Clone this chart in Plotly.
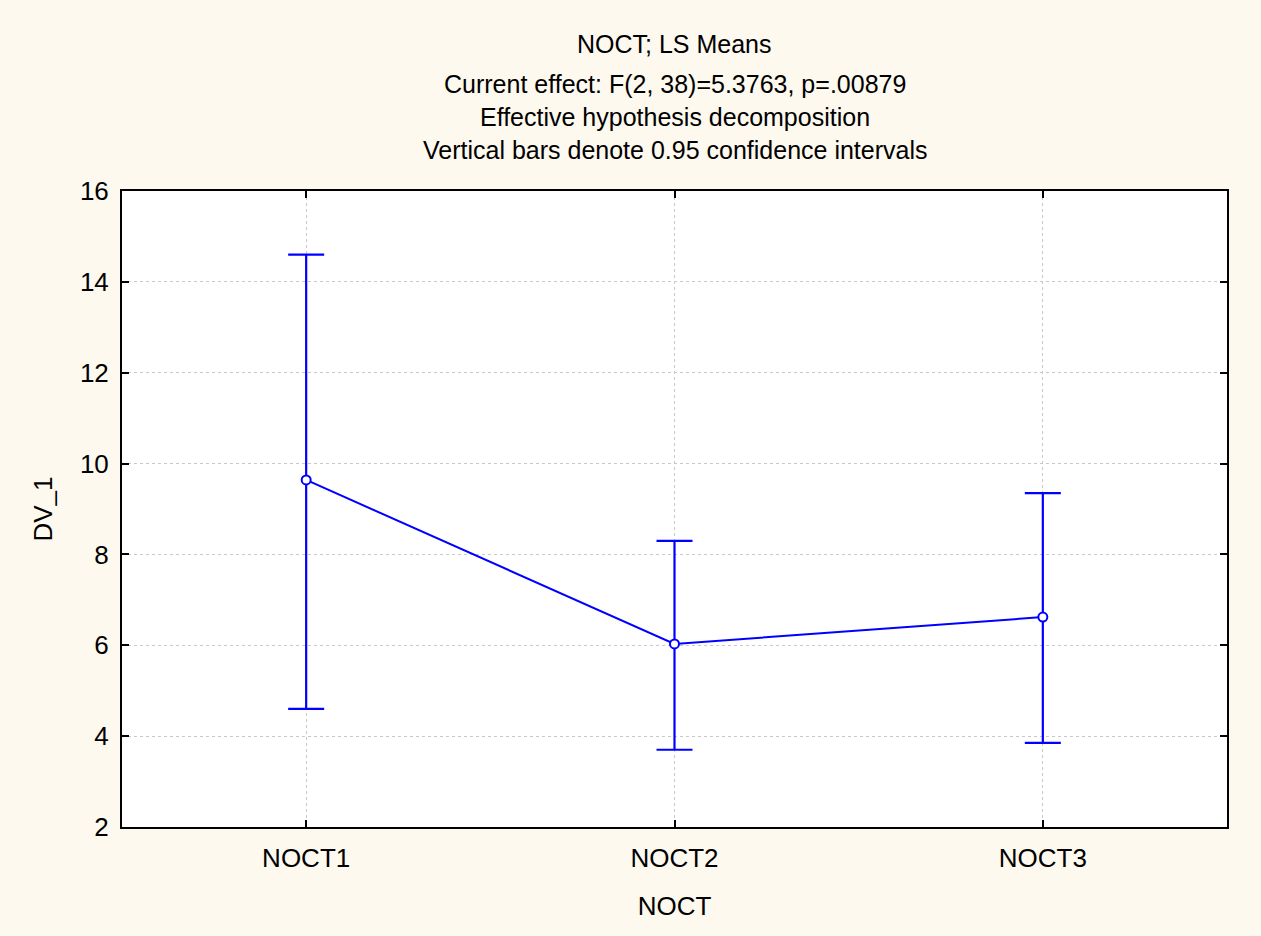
import plotly.graph_objects as go

categories = ["NOCT1", "NOCT2", "NOCT3"]
means = [9.64, 6.03, 6.62]
upper = [14.60, 8.30, 9.35]
lower = [4.60, 3.70, 3.85]
title_lines = [
    "NOCT; LS Means",
    "Current effect: F(2, 38)=5.3763, p=.00879",
    "Effective hypothesis decomposition",
    "Vertical bars denote 0.95 confidence intervals",
]

err_plus = [u - m for u, m in zip(upper, means)]
err_minus = [m - l for m, l in zip(means, lower)]

FONT = "Liberation Sans, Arial, sans-serif"
BLUE = "#0000FF"

fig = go.Figure()
fig.add_trace(go.Scatter(
    x=categories, y=means, mode="lines+markers",
    line=dict(color=BLUE, width=2),
    marker=dict(symbol="circle", size=9, color="white", line=dict(color=BLUE, width=2)),
    error_y=dict(type="data", symmetric=False, array=err_plus, arrayminus=err_minus,
                 color=BLUE, thickness=2.2, width=18),
    showlegend=False,
))

title_y = [44, 84, 117, 150]
for txt, yp in zip(title_lines, title_y):
    fig.add_annotation(text=txt, xref="paper", yref="paper", x=0.5,
                       y=1 + (191 - yp) / (827 - 191), yanchor="middle", xanchor="center",
                       showarrow=False, font=dict(family=FONT, size=25, color="black"))

fig.update_layout(
    width=1261, height=936,
    margin=dict(l=122, r=34, t=191, b=109),
    paper_bgcolor="#FDF9EF", plot_bgcolor="white",
    font=dict(family=FONT, size=26, color="black"),
)
fig.update_xaxes(
    type="category", range=[-0.5, 2.5],
    showline=True, linecolor="black", linewidth=2, mirror="ticks",
    ticks="inside", ticklen=7, tickwidth=2, tickcolor="black",
    showgrid=True, gridcolor="#C8C8C8", griddash="dot", gridwidth=1,
    title=dict(text="NOCT", font=dict(size=26), standoff=25),
    tickfont=dict(size=26), ticklabelstandoff=7,
)
fig.update_yaxes(
    range=[2, 16], dtick=2, tick0=2,
    showline=True, linecolor="black", linewidth=2, mirror="ticks",
    ticks="inside", ticklen=7, tickwidth=2, tickcolor="black",
    showgrid=True, gridcolor="#C8C8C8", griddash="dot", gridwidth=1,
    zeroline=False,
    title=dict(text="DV_1", font=dict(size=26), standoff=20),
    tickfont=dict(size=26), ticklabelstandoff=6,
)
fig.write_html("out.html", config={"displayModeBar": False},
               post_script="document.body.style.margin='0';")
